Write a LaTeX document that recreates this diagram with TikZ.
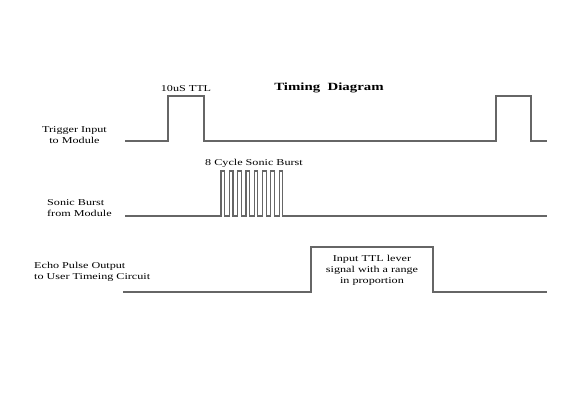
\documentclass[tikz,border=0pt]{standalone}
\usepackage{fontspec}
\setmainfont{Liberation Serif}[FakeStretch=1.35]
\usetikzlibrary{positioning}

\begin{document}
\begin{tikzpicture}[x=1pt,y=-1pt,
        wave/.style={draw=black!60, line width=1.2pt},
        lbl/.style={font=\fontsize{9}{11}\selectfont, inner sep=0pt}]

        \useasboundingbox[fill=white] (0,0) rectangle (585,400);

        % Trigger

        \coordinate (trig) at (125,141);
        \draw[wave] (trig) -- ++(43,0) -- ++(0,-45) coordinate (ttl)
            -- ++(36,0) -- ++(0,45) -- ++(292,0) -- ++(0,-45)
            -- ++(35,0) -- ++(0,45) -- ++(16,0);

        \node[lbl, align=center] (triglbl) at (74.5,135)
            {Trigger Input\\to Module};

        \node[lbl, above right=4pt and 18pt of ttl, anchor=south] (ttllbl)
            {10uS TTL};

        \node[lbl, font=\fontsize{11}{13}\selectfont\bfseries] (title)
            at (329,88) {Timing\ \ Diagram};

        % Sonic burst

        \coordinate (sonic) at (125,216);
        \draw[wave] (sonic) -- ++(96,0) coordinate (burst)
            \foreach \i in {1,...,8}{ -- ++(0,-45) -- ++(3.6,0) -- ++(0,45) -- ++(4.7,0)}
            -- (547,216);

        \node[lbl, align=left, anchor=west] (soniclbl) at (47,208)
            {Sonic Burst\\from Module};

        \node[lbl] (burstlbl) at (254,163) {8 Cycle Sonic Burst};

        % Echo

        \coordinate (echo) at (123,292);
        \draw[wave] (echo) -- ++(188,0) -- ++(0,-45) -- ++(122,0)
            -- ++(0,45) -- ++(114,0);

        \node[lbl, align=left, anchor=west] (echolbl) at (34,271.5)
            {Echo Pulse Output\\to User Timeing Circuit};

        \node[lbl, align=center] (rangelbl) at (372,270)
            {Input TTL lever\\signal with a range\\in proportion};
\end{tikzpicture}
\end{document}
